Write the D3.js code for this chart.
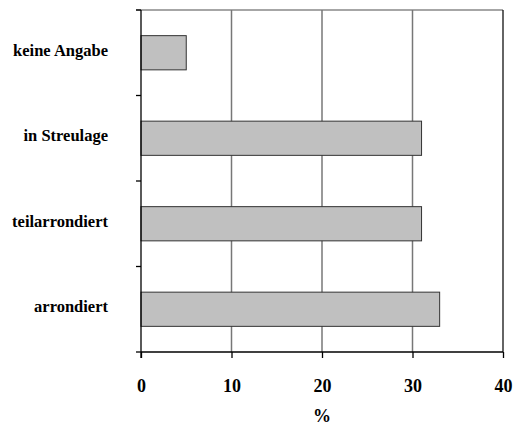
<!DOCTYPE html>
<html>
<head>
<meta charset="utf-8">
<script src="https://cdn.jsdelivr.net/npm/d3@7"></script>
<style>
  html, body { margin: 0; padding: 0; background: #fff; }
  svg { display: block; }
  text { font-family: "Liberation Serif", "Times New Roman", serif; font-weight: bold; fill: #000; }
</style>
</head>
<body>
<svg id="chart" width="513" height="425"></svg>
<script>
const categories = ["keine Angabe", "in Streulage", "teilarrondiert", "arrondiert"];
const values = [5, 31, 31, 33];
const xTicks = [0, 10, 20, 30, 40];
const xLabel = "%";

const W = 513, H = 425;
const margin = { top: 10, right: 10, bottom: 73, left: 141 };
const svg = d3.select("#chart");

const x = d3.scaleLinear().domain([0, 40]).range([margin.left, W - margin.right]);
const y = d3.scaleBand().domain(categories)
  .range([margin.top, H - margin.bottom])
  .paddingInner(0.6).paddingOuter(0.3);

const plotTop = margin.top, plotBottom = H - margin.bottom;

// top frame line
svg.append("line")
  .attr("x1", margin.left - 5).attr("x2", x(40))
  .attr("y1", plotTop).attr("y2", plotTop)
  .attr("stroke", "#888").attr("stroke-width", 1.5);

// gridlines
svg.append("g").selectAll("line").data(xTicks.slice(1, -1)).join("line")
  .attr("x1", d => x(d)).attr("x2", d => x(d))
  .attr("y1", plotTop).attr("y2", plotBottom)
  .attr("stroke", "#777").attr("stroke-width", 1.5);

// right frame
svg.append("line")
  .attr("x1", x(40)).attr("x2", x(40))
  .attr("y1", plotTop).attr("y2", plotBottom)
  .attr("stroke", "#111").attr("stroke-width", 1.3);

// bars
svg.append("g").selectAll("rect").data(categories).join("rect")
  .attr("x", x(0))
  .attr("y", d => y(d))
  .attr("width", (d, i) => x(values[i]) - x(0))
  .attr("height", y.bandwidth())
  .attr("fill", "#c0c0c0")
  .attr("stroke", "#333")
  .attr("stroke-width", 1);

// bottom axis
const xAxis = d3.axisBottom(x).tickValues(xTicks).tickSize(6).tickPadding(21).tickFormat(d3.format("d"));
const gx = svg.append("g").attr("transform", `translate(0,${plotBottom})`).call(xAxis);
gx.select(".domain").attr("stroke", "#000").attr("stroke-width", 1.3).attr("d", `M${x(0)},0H${x(40)}`);
gx.selectAll(".tick line").attr("stroke", "#000").attr("stroke-width", 1.3);
gx.selectAll(".tick text")
  .style("font-family", '"Liberation Serif", "Times New Roman", serif')
  .style("font-weight", "bold").style("font-size", "18px").attr("fill", "#000");

// left axis line and boundary ticks
svg.append("line")
  .attr("x1", x(0)).attr("x2", x(0))
  .attr("y1", plotTop).attr("y2", plotBottom + 6)
  .attr("stroke", "#000").attr("stroke-width", 1.3);
const boundaries = d3.range(categories.length + 1).map(i => plotTop + i * y.step());
svg.append("g").selectAll("line").data(boundaries).join("line")
  .attr("x1", x(0) - 5).attr("x2", x(0))
  .attr("y1", d => d).attr("y2", d => d)
  .attr("stroke", "#000").attr("stroke-width", 1.3);

// category labels
svg.append("g").selectAll("text").data(categories).join("text")
  .attr("x", margin.left - 33)
  .attr("y", d => y(d) + y.bandwidth() / 2 + 3)
  .attr("text-anchor", "end")
  .style("font-size", "16.5px")
  .text(d => d);

// x label
svg.append("text")
  .attr("x", (x(0) + x(40)) / 2)
  .attr("y", 422)
  .attr("text-anchor", "middle")
  .style("font-size", "18px")
  .text(xLabel);
</script>
</body>
</html>
